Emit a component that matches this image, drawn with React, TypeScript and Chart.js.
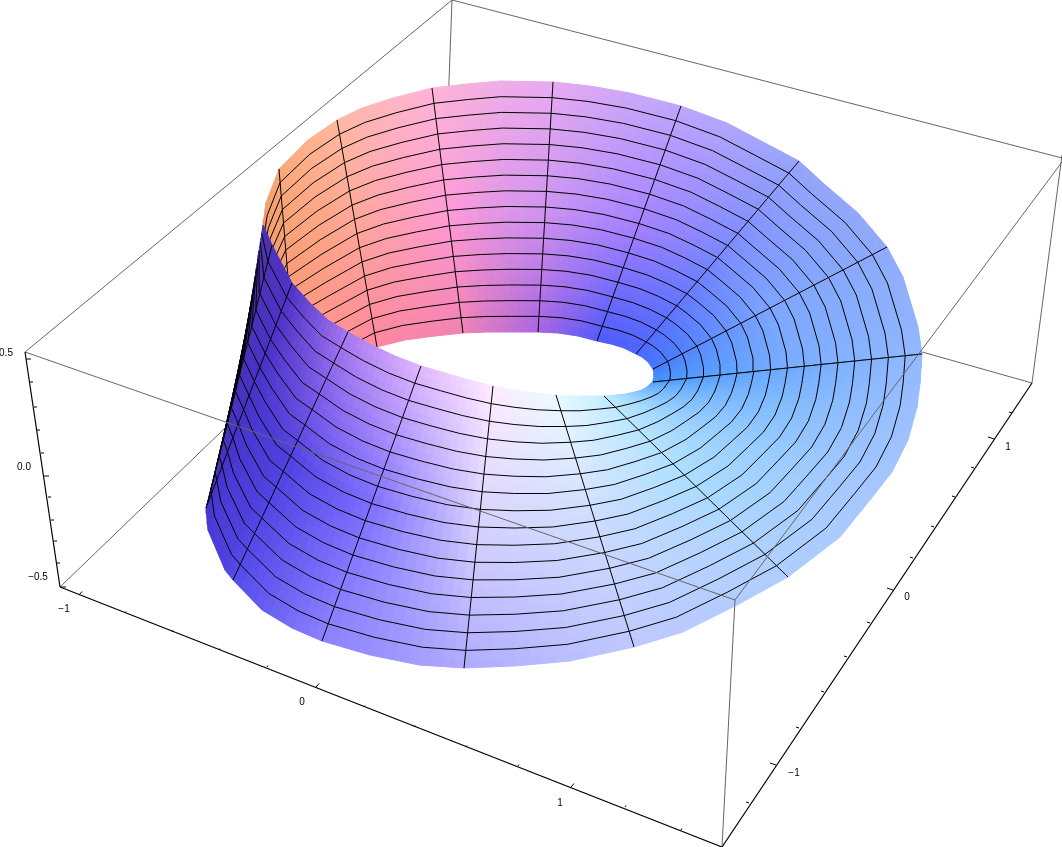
import React, { useEffect, useRef } from "react";
import { Chart, registerables } from "chart.js";

Chart.register(...registerables);

type P = [number, number];
type C = [number, number, number];

// Edge readings of the strip (outer and inner end of each ruling).
const backOuter: P[] = [[922,354],[918,327],[903,277],[887,247],[858,213],[823,183],[799,161],[763,142],[727,123],[681,106],[630,93],[590,86],[553,82],[500,81],[467,84],[432,88],[393,98],[362,108],[337,120],[308,140],[279,169],[266,203],[263,225]];
const backInner: P[] = [[653,382],[654,377],[654,373],[653,369],[648,362],[642,357],[636,354],[624,348],[611,344],[597,341],[578,336],[558,333],[538,332],[512,332],[487,332],[463,333],[435,336],[405,340],[377,347],[336,368],[297,385],[285,400],[275,420]];
const backRulings = [0, 3, 6, 9, 12, 15, 18, 20];
const frontOuter: P[] = [[922,354],[920,383],[917,407],[908,440],[892,472],[870,500],[840,537],[788,577],[737,605],[683,632],[634,647],[570,661],[515,666],[464,668],[419,665],[370,655],[322,641],[292,628],[262,610],[233,580],[225,570],[208,530],[206,508],[207,505],[242,362]];
const frontInner: P[] = [[653,382],[650,384],[647,387],[642,390],[635,392],[626,394],[616,395],[604,396],[590,396],[573,396],[556,395],[535,393],[514,390],[493,386],[469,380],[445,373],[421,366],[395,356],[370,344],[348,332],[328,320],[310,303],[292,283],[272,245],[263,225]];
const frontRulings = [0, 7, 10, 13, 16, 19, 22, 23];

// Surface colours read at the rulings: outer end, middle, inner end.
const backColorStops = [0, 3, 6, 9, 12, 15, 18, 20, 22];
const backOuterColors: C[] = [[147,185,255],[143,170,250],[150,165,250],[190,165,255],[232,170,240],[255,180,215],[255,185,160],[250,170,120],[230,150,110]];
const backMidColors: C[] = [[120,175,255],[125,165,255],[120,135,255],[165,130,255],[205,150,240],[255,155,215],[255,165,150],[250,155,115],[240,150,110]];
const backInnerColors: C[] = [[70,150,255],[65,120,255],[75,100,255],[80,90,250],[170,100,225],[240,130,180],[255,135,160],[255,150,130],[255,150,130]];
const frontColorStops = [0, 7, 10, 13, 16, 19, 22, 24];
const frontOuterColors: C[] = [[147,185,255],[175,205,255],[190,200,255],[175,170,255],[140,130,255],[85,75,235],[70,50,205],[75,55,170]];
const frontMidColors: C[] = [[110,170,255],[170,220,255],[205,220,255],[215,210,255],[125,110,255],[80,65,225],[70,50,200],[75,50,170]];
const frontInnerColors: C[] = [[70,150,255],[190,235,255],[235,250,255],[255,235,255],[225,185,255],[170,120,240],[80,50,200],[75,50,170]];

// Box corners.
const boxHidden: [P, P][] = [[[452,0],[444,217]],[[60,587],[444,217]],[[1032,383],[444,217]],[[25,352],[452,0]],[[452,0],[1062,158]],[[1032,383],[1062,155]]];
const boxFront: [P, P][] = [[[25,352],[735,600]],[[735,600],[1062,162]],[[735,600],[722,847]]];
const axisLines: [P, P][] = [[[25,352],[60,587]],[[60,587],[722,847]],[[722,847],[1032,383]]];

// Tick positions on the three axes.
const zTicks: P[] = [[26,359],[30,382],[34,407],[37,430],[41,453],[44,476],[48,497],[51,520],[54,541],[57,563],[61,587]];
const zMajor = [0, 5, 10];
const xTicks: P[] = [[79,595],[125,613],[172,632],[219,650],[267,667],[316,687],[364,707],[414,727],[466,747],[518,766],[571,787],[625,807],[681,830]];
const xMajor = [0, 5, 10];
const yTicks: P[] = [[749,803],[776,765],[799,728],[824,692],[847,657],[870,623],[893,590],[913,558],[934,527],[955,497],[974,468],[994,439],[1012,413]];
const yMajor = [1, 6, 11];

const tickLabels = ["0.5", "0.0", "\u22120.5", "\u22121", "0", "1", "\u22121", "0", "1"];
const tickLabelAt: P[] = [[6,353],[24,467],[38,577],[64,609],[302,702],[560,803],[794,773],[907,597],[1008,447]];

const ROW_CELLS = 16;
const ROW_SPLIT = 2;
const STATION_SPLIT = 4;
const INK = 1;

const mix = (a: number, b: number, t: number) => a + (b - a) * t;
const mixP = (a: P, b: P, t: number): P => [mix(a[0], b[0], t), mix(a[1], b[1], t)];
const mixC = (a: C, b: C, t: number): C => [mix(a[0], b[0], t), mix(a[1], b[1], t), mix(a[2], b[2], t)];

function surfacePoint(outer: P[], inner: P[], s: number, t: number): P {
  const i = Math.min(Math.floor(s), outer.length - 2);
  const f = s - i;
  return mixP(mixP(outer[i], outer[i + 1], f), mixP(inner[i], inner[i + 1], f), t);
}

function surfaceColor(stops: number[], o: C[], m: C[], n: C[], s: number, t: number): string {
  let k = 0;
  while (k < stops.length - 2 && s > stops[k + 1]) k++;
  const f = Math.min(1, (s - stops[k]) / (stops[k + 1] - stops[k]));
  const at = (j: number): C => (t < 0.5 ? mixC(o[j], m[j], t * 2) : mixC(m[j], n[j], t * 2 - 1));
  const c = mixC(at(k), at(k + 1), f);
  return `rgb(${Math.round(c[0])},${Math.round(c[1])},${Math.round(c[2])})`;
}

const lineSet = (pts: P[], color: string, width = INK) => ({
  data: pts.map(([x, y]) => ({ x, y })),
  showLine: true,
  fill: false,
  borderColor: color,
  borderWidth: width,
  pointRadius: 0,
  tension: 0,
});

function section(outer: P[], inner: P[], rulings: number[], stops: number[], o: C[], m: C[], n: C[]) {
  const sets: any[] = [];
  const rows = ROW_CELLS * ROW_SPLIT;
  const cols = (outer.length - 1) * STATION_SPLIT;
  for (let c = 0; c < cols; c++) {
    const s0 = c / STATION_SPLIT;
    const s1 = (c + 1) / STATION_SPLIT;
    for (let r = 0; r < rows; r++) {
      const t0 = r / rows;
      const t1 = (r + 1) / rows;
      const poly = [
        surfacePoint(outer, inner, s0, t0),
        surfacePoint(outer, inner, s1, t0),
        surfacePoint(outer, inner, s1, t1),
        surfacePoint(outer, inner, s0, t1),
        surfacePoint(outer, inner, s0, t0),
      ];
      const col = surfaceColor(stops, o, m, n, (s0 + s1) / 2, (t0 + t1) / 2);
      sets.push({ ...lineSet(poly, col, 1), fill: "shape", backgroundColor: col });
    }
  }
  for (let r = 1; r < ROW_CELLS; r++) {
    const pts: P[] = outer.map((_, i) => surfacePoint(outer, inner, i, r / ROW_CELLS));
    sets.push(lineSet(pts, "#000000"));
  }
  for (const i of rulings) sets.push(lineSet([outer[i], inner[i]], "#000000"));
  return sets;
}

function ticks(pts: P[], major: number[], minorD: P, majorD: P) {
  return pts.map((p, i) => {
    const d = major.includes(i) ? majorD : minorD;
    return lineSet([p, [p[0] + d[0], p[1] + d[1]]], "#000000", 1);
  });
}

const labelPlugin = {
  id: "boxTickLabels",
  afterDatasetsDraw(chart: any) {
    const { ctx, scales } = chart;
    ctx.save();
    ctx.fillStyle = "#000000";
    ctx.font = '10px "Liberation Sans"';
    ctx.textAlign = "center";
    ctx.textBaseline = "middle";
    tickLabels.forEach((text, i) => {
      ctx.fillText(text, scales.x.getPixelForValue(tickLabelAt[i][0]), scales.y.getPixelForValue(tickLabelAt[i][1]));
    });
    ctx.restore();
  },
};

export default function App() {
  const ref = useRef<HTMLCanvasElement>(null);
  useEffect(() => {
    const paint: any[] = [
      ...boxHidden.map((l) => lineSet(l, "#666666")),
      ...section(backOuter, backInner, backRulings, backColorStops, backOuterColors, backMidColors, backInnerColors),
      ...section(frontOuter, frontInner, frontRulings, frontColorStops, frontOuterColors, frontMidColors, frontInnerColors),
      ...boxFront.map((l) => lineSet(l, "#666666")),
      ...axisLines.map((l) => lineSet(l, "#000000", 1.2)),
      ...ticks(zTicks, zMajor, [3, 0], [5, 0]),
      ...ticks(xTicks, xMajor, [1, -1.5], [3, -3.5]),
      ...ticks(yTicks, yMajor, [-3, -1], [-6, -2]),
    ];
    const chart = new Chart(ref.current!, {
      type: "scatter",
      data: { datasets: paint.reverse() },
      options: {
        responsive: false,
        animation: false,
        events: [],
        layout: { padding: 0 },
        plugins: { legend: { display: false }, tooltip: { enabled: false } },
        scales: {
          x: { type: "linear", display: false, min: 0, max: 1062 },
          y: { type: "linear", display: false, min: 0, max: 847, reverse: true },
        },
      },
      plugins: [labelPlugin],
    } as any);
    return () => chart.destroy();
  }, []);
  return (
    <div style={{ position: "absolute", left: 0, top: 0, width: 1062, height: 847, background: "#ffffff" }}>
      <canvas ref={ref} width={1062} height={847} style={{ display: "block" }} />
    </div>
  );
}
